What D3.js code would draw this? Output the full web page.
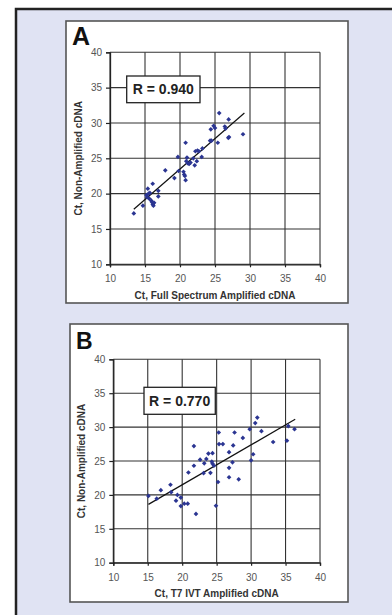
<!DOCTYPE html>
<html>
<head>
<meta charset="utf-8">
<script src="https://cdn.jsdelivr.net/npm/d3@7"></script>
<style>
  html, body { margin: 0; padding: 0; background: #fff; }
  svg { display: block; font-family: "Liberation Sans", Arial, sans-serif; }
</style>
</head>
<body>
<svg id="chart" width="392" height="615"></svg>
<script>
// panel A: Full Spectrum amplified vs non-amplified Ct
const aAmplified = [13.4, 14.7, 15.4, 15.2, 15.5, 15.7, 15.3, 15.6, 15.9, 16.0, 16.1, 16.2, 16.3, 16.1, 16.9, 16.9,
  17.9, 19.2, 19.7, 19.8, 20.5, 20.6, 20.7, 20.8, 20.8, 21.0, 20.9, 21.1, 21.3, 21.5, 21.9, 22.1, 22.2, 22.5,
  22.7, 22.4, 23.1, 23.2, 24.3, 24.5, 25.4, 24.4, 24.8, 25.0, 25.6, 26.4, 26.5, 26.95, 26.9, 27.0, 29.0];
const aNonAmplified = [17.2, 18.3, 20.7, 19.8, 20.0, 20.1, 19.5, 19.3, 19.0, 18.8, 18.5, 18.3, 18.7, 21.4, 20.4, 19.6,
  23.3, 22.2, 25.2, 23.2, 23.1, 22.7, 22.5, 21.9, 27.2, 25.1, 24.6, 24.3, 24.2, 24.4, 25.0, 24.0, 26.0, 26.1,
  26.0, 24.6, 25.2, 26.4, 27.5, 27.5, 27.2, 29.1, 29.6, 29.3, 31.4, 29.5, 29.2, 30.5, 27.9, 28.0, 28.4];
const aFitX = [13.4, 29.2];
const aFitY = [17.8, 31.4];

// panel B: T7 IVT amplified vs non-amplified Ct
const bAmplified = [15.1, 16.3, 16.9, 18.3, 18.4, 19.1, 19.3, 19.8, 19.8, 20.3, 20.8, 20.9, 22.0, 21.7, 21.7, 22.6,
  23.2, 23.1, 23.5, 23.8, 24.4, 24.1, 24.3, 24.4, 24.6, 25.2, 24.9, 25.35, 25.9, 26.8, 26.8, 26.8, 27.3, 27.4,
  28.2, 30.0, 30.3, 33.2, 35.2, 25.3, 27.6, 28.8, 29.8, 30.6, 30.9, 31.5, 35.4, 36.3];
const bNonAmplified = [19.85, 19.45, 20.7, 21.5, 20.4, 19.15, 20.0, 19.6, 18.35, 18.7, 18.7, 23.3, 17.2, 24.3, 27.2, 25.2,
  24.65, 23.2, 25.3, 26.1, 26.15, 23.25, 24.9, 24.6, 24.3, 21.9, 18.4, 27.5, 27.5, 26.3, 24.0, 22.6, 24.8, 27.3,
  22.3, 25.1, 26.0, 27.8, 28.0, 29.2, 29.2, 28.4, 29.7, 30.6, 31.4, 29.4, 30.15, 29.7];
const bFitX = [15.1, 36.4];
const bFitY = [18.6, 31.15];

const tickValues = [10, 15, 20, 25, 30, 35, 40];
const panelLetters = ['A', 'B'];
const xTitles = ['Ct, Full Spectrum Amplified cDNA', 'Ct, T7 IVT Amplified cDNA'];
const yTitle = 'Ct, Non-Amplified cDNA';
const rLabels = ['R = 0.940', 'R = 0.770'];

const svg = d3.select('#chart');

// outer lavender frame, running off the right and bottom edges
svg.append('rect')
  .attr('x', 16).attr('y', 9)
  .attr('width', 400).attr('height', 620)
  .style('fill', '#e0e3f3')
  .style('stroke', '#222')
  .style('stroke-width', 2.5);

const panels = [
  {
    box: [66, 21, 282, 282], x: [110, 320], y: [264.3, 52.3],
    xs: aAmplified, ys: aNonAmplified, fitX: aFitX, fitY: aFitY,
    letter: [72, 45, 25], rBox: [126.7, 76, 73.3, 26.7], xTitleY: 299, yTitleX: 82, xTickY: 281
  },
  {
    box: [70, 324, 278, 278], x: [113.3, 320], y: [562.7, 359.3],
    xs: bAmplified, ys: bNonAmplified, fitX: bFitX, fitY: bFitY,
    letter: [76, 348.5, 23], rBox: [144, 387.3, 71.3, 27], xTitleY: 597, yTitleX: 85, xTickY: 580
  }
];

panels.forEach((p, i) => {
  const g = svg.append('g');
  const x = d3.scaleLinear().domain([10, 40]).range(p.x);
  const y = d3.scaleLinear().domain([10, 40]).range(p.y);

  // white panel card
  g.append('rect')
    .attr('x', p.box[0]).attr('y', p.box[1])
    .attr('width', p.box[2]).attr('height', p.box[3])
    .style('fill', '#fff')
    .style('stroke', '#555')
    .style('stroke-width', 1.6);

  // gridlines
  g.selectAll('line.vgrid').data(tickValues).enter().append('line')
    .attr('x1', d => x(d)).attr('x2', d => x(d))
    .attr('y1', y(10)).attr('y2', y(40))
    .style('stroke', '#333').style('stroke-width', 1.1);
  g.selectAll('line.hgrid').data(tickValues).enter().append('line')
    .attr('y1', d => y(d)).attr('y2', d => y(d))
    .attr('x1', x(10)).attr('x2', x(40))
    .style('stroke', '#333').style('stroke-width', 1.1);

  // axes with tick marks
  const xAxis = g.append('g')
    .attr('transform', `translate(0,${y(10)})`)
    .call(d3.axisBottom(x).tickValues(tickValues).tickSize(3).tickPadding(8));
  const yAxis = g.append('g')
    .attr('transform', `translate(${x(10)},0)`)
    .call(d3.axisLeft(y).tickValues(tickValues).tickSize(4).tickPadding(4));
  [xAxis, yAxis].forEach(a => {
    a.select('.domain').style('stroke', '#222').style('stroke-width', 1.3);
    a.selectAll('.tick line').style('stroke', '#222').style('stroke-width', 1.2);
    a.selectAll('.tick text')
      .style('font-family', '"Liberation Sans", Arial, sans-serif')
      .style('font-size', '10px')
      .style('fill', '#555');
  });

  // regression line
  g.append('path')
    .datum(d3.zip(p.fitX, p.fitY))
    .attr('d', d3.line().x(d => x(d[0])).y(d => y(d[1])))
    .style('stroke', '#111').style('stroke-width', 1.2).style('fill', 'none');

  // points
  const marker = d3.symbol().type(d3.symbolSquare).size(11);
  g.selectAll('path.pt').data(d3.zip(p.xs, p.ys)).enter().append('path')
    .attr('class', 'pt')
    .attr('d', marker)
    .attr('transform', d => `translate(${x(d[0])},${y(d[1])}) rotate(45)`)
    .style('fill', '#2b3592');

  // R label box
  g.append('rect')
    .attr('x', p.rBox[0]).attr('y', p.rBox[1])
    .attr('width', p.rBox[2]).attr('height', p.rBox[3])
    .style('fill', '#fff').style('stroke', '#222').style('stroke-width', 1.3);
  g.append('text')
    .attr('x', p.rBox[0] + p.rBox[2] / 2)
    .attr('y', p.rBox[1] + p.rBox[3] / 2 + 5)
    .attr('text-anchor', 'middle')
    .style('font-size', '14px').style('font-weight', 'bold').style('fill', '#222')
    .text(rLabels[i]);

  // panel letter
  g.append('text')
    .attr('x', p.letter[0]).attr('y', p.letter[1])
    .style('font-size', p.letter[2] + 'px').style('font-weight', 'bold').style('fill', '#111')
    .text(panelLetters[i]);

  // axis titles
  g.append('text')
    .attr('x', (p.x[0] + p.x[1]) / 2).attr('y', p.xTitleY)
    .attr('text-anchor', 'middle')
    .style('font-size', '10px').style('font-weight', 'bold').style('fill', '#333')
    .text(xTitles[i]);
  g.append('text')
    .attr('transform', `translate(${p.yTitleX},${(p.y[0] + p.y[1]) / 2}) rotate(-90)`)
    .attr('text-anchor', 'middle')
    .style('font-size', '10px').style('font-weight', 'bold').style('fill', '#333')
    .text(yTitle);
});
</script>
</body>
</html>
